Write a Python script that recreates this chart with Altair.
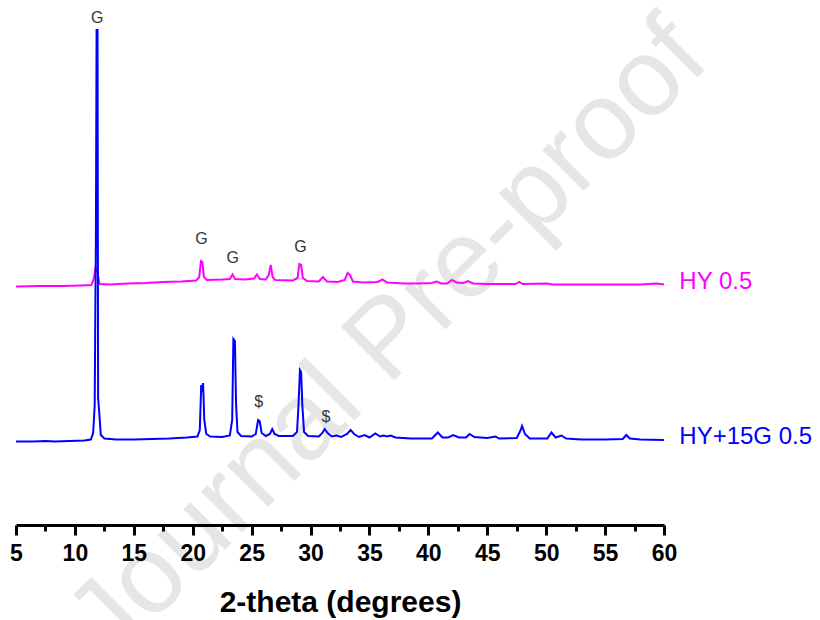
import altair as alt
import pandas as pd

# ---- data (2-theta in degrees, intensity in arbitrary units) ----
blue_x = [5.0, 6.5, 7.5, 8.3, 9.5, 10.8, 11.35, 11.55, 11.68, 11.74, 11.78, 11.84, 11.92, 11.97, 12.05, 12.2, 12.5,
          13.5, 15.0, 16.5, 18.0, 19.5, 20.4, 20.6, 20.72, 20.8, 20.88, 20.98, 21.15, 21.5, 22.5, 23.15, 23.35, 23.45,
          23.58, 23.68, 23.8, 24.1, 25.0, 25.35, 25.55, 25.68, 25.85, 26.2, 26.55, 26.75, 26.95, 27.3, 28.5, 28.85,
          28.98, 29.1, 29.2, 29.3, 29.45, 29.8, 30.7, 31.0, 31.2, 31.45, 31.8, 32.2, 32.6, 33.1, 33.4, 33.7, 34.1,
          34.6, 35.0, 35.5, 35.9, 36.2, 36.5, 36.8, 37.2, 38.5, 40.3, 40.8, 41.2, 41.7, 42.1, 42.6, 43.2, 43.5, 43.9,
          45.0, 45.7, 46.0, 47.5, 47.8, 47.95, 48.2, 48.6, 50.1, 50.45, 50.8, 51.3, 51.7, 53.0, 55.0, 56.5, 56.8,
          57.1, 58.0, 60.0]
blue_y = [81.5, 81.5, 82, 81.5, 82, 82.5, 83.5, 90, 118, 223, 280, 493, 493, 125, 113, 88, 84.5,
          83.5, 83.5, 84, 84.5, 85.5, 86.5, 93, 138, 131, 140, 103, 89, 86.5, 86, 87.5, 103, 184,
          182, 118, 91, 87, 86.5, 89, 103, 102, 90, 87, 89, 94, 89, 87, 87, 91,
          118, 153, 151, 118, 91, 87, 86.5, 90, 94, 90, 86.5, 87.5, 86, 89, 93, 89, 86,
          88, 85.5, 89.5, 86.5, 87.5, 86.5, 87.5, 85.5, 84.5, 84.5, 90.5, 85.5, 85.5, 88, 85.5, 85.5, 89, 86,
          85, 86.5, 84.5, 85, 92, 97, 89, 84.5, 84.5, 90.5, 85.5, 87.5, 84.5, 83.5, 83.5, 84, 88,
          84.5, 83.5, 83]

mag_x = [5.0, 7.0, 9.0, 10.5, 11.4, 11.6, 11.75, 11.9, 12.1, 13.0, 14.5, 16.0, 17.5, 19.0, 20.3, 20.55, 20.7,
         20.82, 20.95, 21.2, 22.5, 23.15, 23.38, 23.6, 24.5, 25.2, 25.45, 25.7, 26.2, 26.45, 26.62, 26.78, 27.0,
         28.5, 28.9, 29.05, 29.2, 29.35, 29.7, 30.7, 31.05, 31.4, 32.3, 32.9, 33.15, 33.35, 33.6, 34.5, 35.7,
         36.1, 36.5, 38.0, 39.0, 40.3, 40.7, 41.1, 41.6, 42.0, 42.4, 43.0, 43.35, 43.8, 45.0, 46.5, 47.4, 47.7,
         48.0, 50.1, 50.5, 53.0, 56.0, 58.0, 59.4, 60.0]
mag_y = [236.5, 237, 237, 237.5, 238, 244, 255, 251, 239, 238.5, 239.5, 240, 241, 241.5, 242.5, 246, 262,
         261, 246, 243, 243.5, 244, 248.5, 244, 243.5, 244.5, 248.5, 244, 243.5, 248, 258, 246, 243,
         242.5, 245, 259, 258, 245, 242, 241.5, 246, 241.5, 241, 243, 250, 248, 241.5, 240.5, 241,
         243.5, 240.5, 239.5, 239.5, 240, 241.5, 239.5, 239.5, 243, 240.5, 240, 242, 239.5, 239, 239, 239, 241,
         239, 239.5, 238.5, 238.5, 238.5, 238.5, 239.5, 238.5]

series_names = ["HY 0.5", "HY+15G 0.5"]
series_colors = ["#FF00FF", "#0000FF"]
series_label_x = [61.3, 61.3]
series_label_y = [241, 86]

ann_text = ["G", "G", "G", "G", "$", "$"]
ann_x = [11.9, 20.75, 23.4, 29.15, 25.6, 31.3]
ann_y = [505.5, 284, 265.5, 276.5, 121, 106.5]

tick_values = [5, 7.5, 10, 12.5, 15, 17.5, 20, 22.5, 25, 27.5, 30, 32.5, 35, 37.5, 40, 42.5, 45, 47.5, 50,
               52.5, 55, 57.5, 60]

watermark_text = ["Journal Pre-proof"]
watermark_x = [38.6]
watermark_y = [160]

# ---- tables ----
blue_df = pd.DataFrame({"theta": blue_x, "intensity": blue_y})
mag_df = pd.DataFrame({"theta": mag_x, "intensity": mag_y})
lab_df = pd.DataFrame({"name": series_names, "color": series_colors, "x": series_label_x, "y": series_label_y})
ann_df = pd.DataFrame({"t": ann_text, "x": ann_x, "y": ann_y})
wm_df = pd.DataFrame({"t": watermark_text, "x": watermark_x, "y": watermark_y})

FONT = "Liberation Sans"

xscale = alt.Scale(domain=[5, 60], nice=False, zero=False)
yscale = alt.Scale(domain=[0, 513], nice=False, zero=False)

x_axis = alt.Axis(
    values=tick_values,
    format="d",
    labelExpr="datum.value % 5 === 0 ? datum.label : ''",
    tickSize={"condition": {"test": "datum.value % 5 === 0", "value": 10}, "value": 6},
    tickWidth=3,
    tickColor="black",
    domainWidth=3,
    domainColor="black",
    labelFont=FONT,
    labelFontSize=23,
    labelFontWeight="bold",
    labelColor="black",
    labelPadding=7,
    labelFlush=False,
    labelOverlap=False,
    title="2-theta (degrees)",
    titleFont=FONT,
    titleFontSize=30,
    titleFontWeight="bold",
    titleColor="black",
    titlePadding=22,
    grid=False,
    offset=2,
    zindex=1,
)

watermark = alt.Chart(wm_df).mark_text(
    font=FONT, fontSize=110, color="#e6e6e6", angle=315, align="center", baseline="alphabetic"
).encode(
    x=alt.X("x:Q", scale=xscale, axis=x_axis),
    y=alt.Y("y:Q", scale=yscale, axis=None),
    text="t:N",
)

mag_line = alt.Chart(mag_df).mark_line(color="#FF00FF", strokeWidth=2, interpolate="linear").encode(
    x=alt.X("theta:Q", scale=xscale, axis=x_axis),
    y=alt.Y("intensity:Q", scale=yscale, axis=None),
)

blue_line = alt.Chart(blue_df).mark_line(color="#0000FF", strokeWidth=2, interpolate="linear").encode(
    x=alt.X("theta:Q", scale=xscale, axis=x_axis),
    y=alt.Y("intensity:Q", scale=yscale, axis=None),
)

labels = alt.Chart(lab_df).mark_text(font=FONT, fontSize=24, align="left", baseline="middle").encode(
    x=alt.X("x:Q", scale=xscale, axis=x_axis),
    y=alt.Y("y:Q", scale=yscale, axis=None),
    text="name:N",
    color=alt.Color("color:N", scale=None, legend=None),
)

anns = alt.Chart(ann_df).mark_text(font=FONT, fontSize=16, color="#333333", align="center", baseline="middle").encode(
    x=alt.X("x:Q", scale=xscale, axis=x_axis),
    y=alt.Y("y:Q", scale=yscale, axis=None),
    text="t:N",
)

chart = alt.layer(watermark, mag_line, blue_line, labels, anns).properties(
    width=648,
    height=513,
    padding={"left": 16, "top": 10, "right": 156, "bottom": 97},
    autosize=alt.AutoSizeParams(type="none"),
    background="white",
).configure_view(stroke=None)

chart.save("out.html", embed_options={"renderer": "svg", "actions": False})
